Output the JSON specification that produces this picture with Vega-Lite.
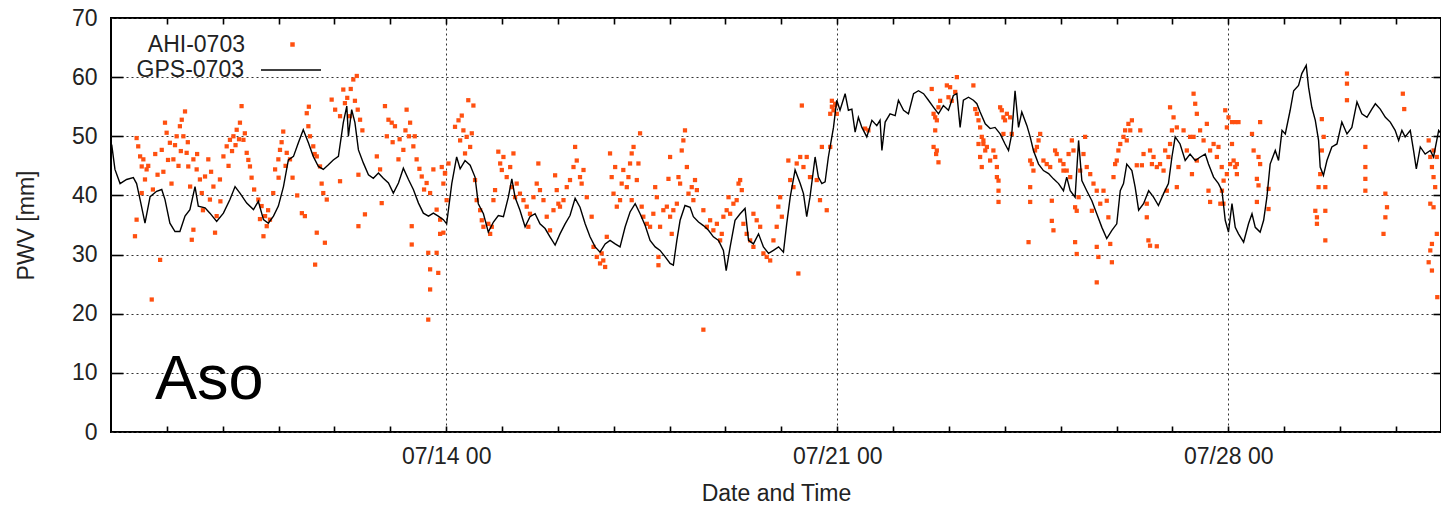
{
"$schema": "https://vega.github.io/schema/vega-lite/v6.json",
"autosize": {"type": "none"},
"padding": {"left": 111, "top": 18, "right": 0, "bottom": 74},
"width": 1330,
"height": 414,
"background": "white",
"config": {
 "view": {"stroke": "black", "strokeWidth": 2},
 "font": "Liberation Sans",
 "axis": {"labelFont": "Liberation Sans", "titleFont": "Liberation Sans", "labelFontSize": 23, "titleFontSize": 23, "labelColor": "#222", "titleColor": "#222", "titleFontWeight": "normal"}
},
"datasets": {
"ahi": [
{"h":11,"v":49.7},{"h":11.7,"v":48.3},{"h":12.5,"v":46.6},{"h":13.2,"v":44.9},{"h":13.9,"v":46.1},{"h":11,"v":35.9},{"h":10.3,"v":33.1},{"h":14.6,"v":42.7},{"h":15.3,"v":44.4},{"h":13.2,"v":40.4},{"h":17.5,"v":22.4},{"h":21.1,"v":29.1},{"h":21.8,"v":47.7},{"h":23.2,"v":52.3},{"h":23.9,"v":50.6},{"h":25.3,"v":48.9},{"h":26.8,"v":46.1},{"h":28.2,"v":50},{"h":29.6,"v":51.7},{"h":30.4,"v":52.8},{"h":31.1,"v":50},{"h":31.8,"v":54.2},{"h":32.5,"v":47.2},{"h":33.2,"v":44.9},{"h":34,"v":41.5},{"h":35.4,"v":46.1},{"h":36.8,"v":44.4},{"h":38.2,"v":42.7},{"h":35.4,"v":34.2},{"h":34.7,"v":32.5},{"h":39,"v":40.4},{"h":40.4,"v":43.2},{"h":41.8,"v":46.1},{"h":42.5,"v":39.3},{"h":44,"v":41.5},{"h":45.4,"v":36.5},{"h":44.7,"v":33.7},{"h":46.8,"v":42.7},{"h":48.3,"v":46.6},{"h":49.7,"v":48.3},{"h":51.1,"v":49.4},{"h":52.6,"v":50},{"h":54,"v":51.1},{"h":55.4,"v":52.3},{"h":56.1,"v":55.1},{"h":56.9,"v":49.4},{"h":58.3,"v":47.2},{"h":59.7,"v":44.9},{"h":60.4,"v":43},{"h":63.3,"v":39.3},{"h":64.7,"v":38.2},{"h":66.2,"v":36.5},{"h":66.9,"v":34.8},{"h":68.3,"v":35.9},{"h":65.5,"v":33.1},{"h":69.7,"v":40.4},{"h":70.5,"v":44.4},{"h":71.9,"v":46.1},{"h":72.6,"v":47.7},{"h":74,"v":50.8},{"h":75.5,"v":47.2},{"h":76.9,"v":46.1},{"h":83.3,"v":36.5},{"h":84.1,"v":53.9},{"h":84.8,"v":51.7},{"h":85.5,"v":50},{"h":86.9,"v":48.3},{"h":88.4,"v":46.6},{"h":89.8,"v":44.9},{"h":91.2,"v":40.4},{"h":87.7,"v":28.3},{"h":88.4,"v":33.7},{"h":91.9,"v":32},{"h":92.7,"v":39.3},{"h":94.8,"v":56.2},{"h":96.3,"v":54.5},{"h":98.4,"v":53.4},{"h":99.8,"v":57.9},{"h":100.5,"v":55.6},{"h":102.7,"v":53.4},{"h":104.1,"v":59.6},{"h":105.6,"v":60.2},{"h":107,"v":52.8},{"h":106.3,"v":34.8},{"h":109.1,"v":36.8},{"h":98.4,"v":42.4},{"h":106.3,"v":43.5},{"h":114.2,"v":46.6},{"h":115.6,"v":44.4},{"h":116.3,"v":38.7},{"h":117.7,"v":55.1},{"h":119.2,"v":52.8},{"h":120.6,"v":52.3},{"h":122,"v":51.7},{"h":123.5,"v":46.1},{"h":125.6,"v":47.7},{"h":127,"v":54.5},{"h":128.5,"v":52.3},{"h":129.9,"v":48.3},{"h":129.2,"v":34.8},{"h":129.2,"v":31.7},{"h":131.3,"v":46.1},{"h":133.5,"v":43.2},{"h":135.6,"v":42.1},{"h":137.1,"v":40.4},{"h":138.5,"v":44.4},{"h":139.9,"v":37.6},{"h":141.4,"v":35.9},{"h":142.8,"v":33.7},{"h":143.5,"v":43.8},{"h":136.3,"v":30.3},{"h":137.1,"v":27.5},{"h":137.1,"v":24.1},{"h":139.9,"v":30.3},{"h":140.6,"v":26.9},{"h":136.3,"v":19},
{"h":16,"v":45},{"h":18,"v":41},{"h":19,"v":47},{"h":20,"v":43.5},{"h":22.5,"v":44},{"h":24.5,"v":46},{"h":26,"v":42},{"h":27.5,"v":48.5},{"h":29,"v":45},{"h":30,"v":47.5},{"h":33,"v":49},{"h":37,"v":47},{"h":39.5,"v":37.5},{"h":43,"v":44},{"h":47,"v":39},{"h":50.5,"v":45},{"h":52,"v":47.5},{"h":53.5,"v":48.5},{"h":55,"v":49.5},{"h":57.5,"v":50.5},{"h":59,"v":46},{"h":61.5,"v":41},{"h":64,"v":36},{"h":67.5,"v":37.5},{"h":72,"v":43},{"h":73.3,"v":49},{"h":75,"v":45},{"h":78,"v":43},{"h":80,"v":40},{"h":82,"v":37},{"h":85,"v":55},{"h":87.5,"v":47},{"h":90.5,"v":42},{"h":101.5,"v":56.5},{"h":103,"v":58},{"h":104.8,"v":56},{"h":106,"v":54.5},{"h":108,"v":51},{"h":118.5,"v":50},{"h":121,"v":49},{"h":124,"v":49.5},{"h":126.5,"v":51},{"h":128,"v":50},{"h":130.5,"v":50},{"h":132.5,"v":44.5},{"h":134.5,"v":41},
{"h":142.1,"v":44.8},{"h":142.8,"v":42},{"h":143.5,"v":43.7},{"h":144.2,"v":39.2},{"h":145,"v":45.4},{"h":141.4,"v":33.5},{"h":147.8,"v":51.6},{"h":149.3,"v":52.7},{"h":150.7,"v":53.5},{"h":151.4,"v":51},{"h":152.8,"v":49.9},{"h":154.3,"v":48.2},{"h":155.7,"v":55.2},{"h":153.5,"v":56.1},{"h":155,"v":50.5},{"h":150,"v":49.3},{"h":152.1,"v":47.1},{"h":156.4,"v":42.6},{"h":157.1,"v":39.2},{"h":158.6,"v":37.5},{"h":159.3,"v":35.8},{"h":160,"v":34.7},{"h":162.9,"v":33.5},{"h":162.1,"v":35.2},{"h":163.6,"v":34.7},{"h":165,"v":40.9},{"h":164.3,"v":39.2},{"h":166.4,"v":47.4},{"h":167.2,"v":45.4},{"h":167.9,"v":44.3},{"h":168.6,"v":46.5},{"h":170,"v":43.1},{"h":171.5,"v":44.8},{"h":172.9,"v":47.1},{"h":172.2,"v":41.4},{"h":174.3,"v":42},{"h":173.6,"v":39.7},{"h":175.7,"v":40.3},{"h":177.2,"v":39.2},{"h":178.6,"v":38.1},{"h":180,"v":36.9},{"h":181.5,"v":39.7},{"h":179.3,"v":34.7},{"h":182.9,"v":42},{"h":183.6,"v":45.4},{"h":184.3,"v":40.9},{"h":185.8,"v":39.2},{"h":187.2,"v":36.4},{"h":188.6,"v":34.1},{"h":190.1,"v":37.5},{"h":190.8,"v":43.4},{"h":191.5,"v":40.9},{"h":192.2,"v":38.6},{"h":192.9,"v":38.1},{"h":194.4,"v":39.2},{"h":195.8,"v":41.4},{"h":197.2,"v":42.6},{"h":198.7,"v":44.8},{"h":199.4,"v":48.2},{"h":200.1,"v":45.9},{"h":201.5,"v":43.1},{"h":202.2,"v":42},{"h":203,"v":44.3},{"h":204.4,"v":39.7},{"h":206.5,"v":36.4},{"h":207.3,"v":31.3},{"h":208.7,"v":29.6},{"h":210.1,"v":28.5},{"h":210.8,"v":30.2},{"h":211.5,"v":29},{"h":213,"v":33},{"h":212.3,"v":27.9},{"h":214.4,"v":47.1},{"h":215.1,"v":43.1},{"h":215.9,"v":40.3},{"h":216.6,"v":44.8},{"h":217.3,"v":38.1},{"h":218.7,"v":39.2},{"h":219.4,"v":42},{"h":220.1,"v":44.3},{"h":221.6,"v":41.4},{"h":222.3,"v":43.1},{"h":223,"v":45.4},{"h":223.7,"v":47.1},{"h":224.5,"v":48.2},{"h":223.7,"v":39.2},{"h":225.9,"v":42.6},{"h":226.6,"v":45.4},{"h":227.3,"v":50.5},{"h":228,"v":38.1},{"h":228.7,"v":36.4},{"h":230.2,"v":35.2},{"h":231.6,"v":34.7},{"h":233,"v":36.9},{"h":233.8,"v":41.4},{"h":234.5,"v":39.7},{"h":235.2,"v":29.6},{"h":235.2,"v":28.2},{"h":235.9,"v":34.7},{"h":237.3,"v":37.5},{"h":238.8,"v":38.1},{"h":240.2,"v":36.4},{"h":240.9,"v":33.5},{"h":239.5,"v":42.8},{"h":240.2,"v":46.5},{"h":241.6,"v":37.5},{"h":243.1,"v":38.6},{"h":243.8,"v":43.1},{"h":244.5,"v":42},{"h":245.2,"v":47.6},{"h":245.9,"v":49.3},{"h":246.6,"v":51},{"h":247.4,"v":44.8},{"h":248.1,"v":40.3},{"h":249.5,"v":41.4},{"h":250.2,"v":39.2},{"h":250.9,"v":42.6},{"h":251.7,"v":40.9},{"h":254.5,"v":37.5},{"h":256,"v":34.7},{"h":257.4,"v":35.8},{"h":258.8,"v":34.1},{"h":260.3,"v":35.2},{"h":261.7,"v":32.4},{"h":263.1,"v":36.4},{"h":264.5,"v":37.5},{"h":265.3,"v":39.7},{"h":266,"v":36.9},{"h":267.4,"v":38.6},{"h":268.8,"v":39.2},{"h":269.6,"v":42},{"h":270.3,"v":42.6},{"h":271,"v":40.9},{"h":262.4,"v":33.5},{"h":271.7,"v":35.2},{"h":273.1,"v":33.5},{"h":274.6,"v":32.4},{"h":276,"v":36.9},{"h":277.4,"v":35.8},{"h":278.9,"v":34.7},{"h":280.3,"v":30.2},{"h":281.7,"v":29.6},{"h":283.2,"v":29},{"h":284.6,"v":32.4},{"h":286,"v":34.7},{"h":286.7,"v":38.1},{"h":287.5,"v":39.7},{"h":288.2,"v":36.4},{"h":276,"v":31.3},{"h":291,"v":45.9},{"h":291.8,"v":42.6},{"h":293.2,"v":41.4},{"h":294.6,"v":45.4},{"h":296.1,"v":46.5},{"h":296.8,"v":55.2},{"h":297.5,"v":44.8},{"h":298.9,"v":46.5},{"h":300.3,"v":43.1},{"h":303.2,"v":42.6},{"h":304.6,"v":39.2},{"h":305.4,"v":48.2},{"h":307.5,"v":37.5},{"h":309,"v":53.8},{"h":309.7,"v":55},{"h":311.1,"v":55.2},{"h":311.8,"v":53.8},{"h":295.3,"v":26.8},{"h":254.5,"v":17.3},
{"h":309.7,"v":56},{"h":310.4,"v":54.4},{"h":309,"v":48.2},{"h":311.1,"v":55.5},{"h":324,"v":51.3},{"h":325.4,"v":51},{"h":352.6,"v":58},{"h":353.4,"v":53.8},{"h":354.1,"v":53.2},{"h":354.8,"v":52.7},{"h":355.5,"v":54.9},{"h":356.2,"v":56},{"h":353.4,"v":48.2},{"h":354.8,"v":47.6},{"h":355.5,"v":45.6},{"h":354.1,"v":51},{"h":354.5,"v":47},{"h":359.1,"v":58.6},{"h":360.5,"v":58.3},{"h":359.8,"v":56.6},{"h":361.2,"v":56},{"h":363.4,"v":60},{"h":362.7,"v":57.5},{"h":370.5,"v":58.6},{"h":371.3,"v":54.6},{"h":372,"v":53.8},{"h":372.7,"v":52.7},{"h":373.4,"v":51.5},{"h":374.1,"v":49.9},{"h":374.8,"v":48.7},{"h":375.6,"v":47.6},{"h":372.7,"v":48.7},{"h":373.4,"v":46.5},{"h":374.1,"v":44.8},{"h":374.8,"v":49.3},{"h":376.3,"v":48.2},{"h":377.7,"v":45.9},{"h":379.1,"v":47.6},{"h":380.6,"v":44.8},{"h":381.3,"v":42.5},{"h":381.3,"v":40.8},{"h":381.3,"v":38.9},{"h":380.6,"v":43.1},{"h":379.9,"v":46.5},{"h":382,"v":54.9},{"h":382.7,"v":54.4},{"h":383.4,"v":53.2},{"h":384.1,"v":52.7},{"h":384.9,"v":53.8},{"h":386.3,"v":53.2},{"h":387,"v":50.4},{"h":383.4,"v":50.4},{"h":394.9,"v":45.9},{"h":395.6,"v":45.3},{"h":396.3,"v":44.2},{"h":397,"v":47.6},{"h":397.8,"v":48.2},{"h":398.5,"v":49.3},{"h":399.2,"v":50.4},{"h":394.9,"v":41.4},{"h":394.9,"v":38.9},{"h":394.2,"v":32.1},{"h":400.6,"v":45.9},{"h":402,"v":45.3},{"h":403.5,"v":44.8},{"h":404.2,"v":35.7},{"h":404.9,"v":34.1},{"h":405.6,"v":47.6},{"h":406.3,"v":47},{"h":407.8,"v":45.9},{"h":409.2,"v":45.3},{"h":410.6,"v":44.2},{"h":412.1,"v":43.1},{"h":412.8,"v":49.3},{"h":413.5,"v":47.6},{"h":411.4,"v":47},{"h":409.2,"v":44.2},{"h":404.2,"v":39.1},{"h":414.2,"v":38},{"h":414.9,"v":37.4},{"h":415.7,"v":39.7},{"h":416.4,"v":44.2},{"h":417.8,"v":47},{"h":418.5,"v":49.9},{"h":419.2,"v":44.8},{"h":420.7,"v":43.6},{"h":422.1,"v":42},{"h":423.5,"v":40.8},{"h":414.2,"v":32.1},{"h":414.9,"v":30.1},{"h":421.4,"v":37.4},{"h":423.5,"v":31.3},{"h":424.2,"v":29.6},{"h":423.5,"v":25.3},{"h":425,"v":38.6},{"h":426.4,"v":40.8},{"h":427.8,"v":39.1},{"h":429.3,"v":31.8},{"h":430,"v":28.7},{"h":428.5,"v":36.3},{"h":430.7,"v":43.1},{"h":431.4,"v":45.3},{"h":432.1,"v":45.9},{"h":432.8,"v":47.6},{"h":433.6,"v":48.7},{"h":435,"v":49.9},{"h":435.7,"v":51},{"h":436.4,"v":49.3},{"h":437.9,"v":51},{"h":438.6,"v":52.7},{"h":437.1,"v":52.1},{"h":440.7,"v":45.1},{"h":442.2,"v":51},{"h":442.9,"v":45.1},{"h":443.6,"v":47},{"h":445,"v":36.3},{"h":445.7,"v":32.4},{"h":446.4,"v":31.5},{"h":449.3,"v":31.4},{"h":445,"v":38.6},{"h":446.4,"v":47.6},{"h":447.2,"v":45.3},{"h":447.9,"v":46.5},{"h":449.3,"v":44.8},{"h":450.7,"v":45.3},{"h":452.2,"v":44.2},{"h":452.9,"v":47.6},{"h":453.6,"v":40.8},{"h":454.3,"v":46.5},{"h":455,"v":48.7},{"h":455.8,"v":51},{"h":456.5,"v":53.2},{"h":455,"v":54.9},{"h":457.9,"v":51.5},{"h":458.6,"v":44.8},{"h":457.9,"v":41.4},{"h":460.8,"v":51},{"h":462.2,"v":47.6},{"h":463.6,"v":49.9},{"h":464.4,"v":43.6},{"h":465.1,"v":57.2},{"h":465.8,"v":55.5},{"h":466.5,"v":53.8},{"h":467.9,"v":51},{"h":469.4,"v":49.3},{"h":470.8,"v":52.1},{"h":471.5,"v":40.8},{"h":472.2,"v":47.6},{"h":473.7,"v":48.7},{"h":475.1,"v":46.5},{"h":475.8,"v":48.2},{"h":477.2,"v":44.8},{"h":477.9,"v":38.6},{"h":478.7,"v":54.4},{"h":480.1,"v":53.2},{"h":465.1,"v":49.9},{"h":466.5,"v":45.9},{"h":472.2,"v":38.9},
{"h":479.4,"v":51.5},{"h":481.6,"v":52.4},{"h":483,"v":52.4},{"h":484.4,"v":52.4},{"h":481.6,"v":48.7},{"h":482.3,"v":45.9},{"h":483,"v":44.8},{"h":483.7,"v":45.3},{"h":480.8,"v":45.3},{"h":479.4,"v":43.6},{"h":478,"v":42.5},{"h":477.3,"v":40.8},{"h":476.6,"v":38.6},{"h":483.7,"v":43.6},{"h":490.2,"v":50.4},{"h":490.9,"v":47.6},{"h":492.3,"v":42.8},{"h":493,"v":41.7},{"h":493.7,"v":52.4},{"h":493,"v":46.5},{"h":493.7,"v":45.3},{"h":492.3,"v":38.9},{"h":497.3,"v":41.1},{"h":497.3,"v":37.7},{"h":517.4,"v":37.4},{"h":518.1,"v":36.3},{"h":518.8,"v":41.4},{"h":519.5,"v":43.6},{"h":520.2,"v":47.6},{"h":520.2,"v":52.9},{"h":521,"v":49.9},{"h":521.7,"v":41.4},{"h":521.7,"v":37.4},{"h":521.7,"v":32.4},{"h":518.1,"v":35.2},{"h":531,"v":60.6},{"h":531,"v":58.9},{"h":531,"v":56.1},{"h":538.9,"v":48.2},{"h":538.9,"v":44.8},{"h":538.9,"v":42.8},{"h":538.9,"v":40.8},{"h":547.5,"v":40.3},{"h":548.2,"v":38},{"h":547.5,"v":36.3},{"h":546.7,"v":33.5},{"h":555,"v":57.2},{"h":555.6,"v":54.6},{"h":566.1,"v":49.3},{"h":566.8,"v":46.5},{"h":567.5,"v":44.8},{"h":568.2,"v":43.1},{"h":568.9,"v":41.4},{"h":566.8,"v":38.6},{"h":568.2,"v":38},{"h":569.6,"v":33.5},{"h":567.5,"v":31.8},{"h":566.8,"v":30.7},{"h":566.1,"v":28.7},{"h":567.5,"v":27.3},{"h":568.2,"v":47.6},{"h":569.6,"v":46.5},{"h":569.8,"v":22.8}
],
"gps": [
{"h":0.3,"v":48.6},{"h":1.7,"v":44.4},{"h":3.9,"v":42},{"h":6.7,"v":42.7},{"h":9.6,"v":43},{"h":11,"v":42},{"h":12.5,"v":39.3},{"h":14.6,"v":35.3},{"h":16.8,"v":39.8},{"h":19.6,"v":40.7},{"h":21.8,"v":41},{"h":23.2,"v":39.3},{"h":25.3,"v":35.3},{"h":27.5,"v":33.9},{"h":29.6,"v":33.9},{"h":31.8,"v":36.5},{"h":33.9,"v":37.6},{"h":36.1,"v":41.5},{"h":37.5,"v":38.2},{"h":40.4,"v":37.9},{"h":42.5,"v":37},{"h":45.4,"v":35.6},{"h":48.3,"v":37},{"h":51.1,"v":39.3},{"h":53.3,"v":41.5},{"h":55.4,"v":40.4},{"h":58.3,"v":38.7},{"h":61.2,"v":37.6},{"h":63.3,"v":39},{"h":65.5,"v":35.9},{"h":67.6,"v":35.3},{"h":69.8,"v":36.5},{"h":71.9,"v":38.2},{"h":74.1,"v":41.5},{"h":76.2,"v":46},{"h":78.4,"v":46.6},{"h":80.5,"v":48.9},{"h":82.6,"v":51.1},{"h":84.8,"v":48.9},{"h":86.9,"v":46.6},{"h":89.1,"v":44.9},{"h":91.2,"v":44.4},{"h":93.4,"v":45.2},{"h":95.5,"v":46},{"h":97.7,"v":46.6},{"h":99.8,"v":52.3},{"h":101.3,"v":55.1},{"h":102,"v":50},{"h":103.4,"v":54.5},{"h":104.8,"v":52.3},{"h":106.3,"v":47.7},{"h":108.4,"v":45.5},{"h":110.6,"v":43.5},{"h":112.7,"v":42.9},{"h":114.9,"v":43.8},{"h":117,"v":42.9},{"h":119.2,"v":42.1},{"h":121.3,"v":40.4},{"h":123.5,"v":42.1},{"h":125.6,"v":44.6},{"h":127.8,"v":42.7},{"h":129.9,"v":41},{"h":132.1,"v":38.7},{"h":134.2,"v":37},{"h":136.4,"v":36.5},{"h":138.5,"v":37},{"h":140.6,"v":36.5},{"h":142.8,"v":35.9},
{"h":144.2,"v":35.2},{"h":146.4,"v":42},{"h":148.5,"v":46.5},{"h":150,"v":44.5},{"h":152.1,"v":45.9},{"h":154.3,"v":45.1},{"h":156.4,"v":43.1},{"h":157.8,"v":38.6},{"h":160,"v":36.9},{"h":162.1,"v":33.8},{"h":164.3,"v":35.5},{"h":166.4,"v":36.6},{"h":168.6,"v":36.4},{"h":170.7,"v":39.7},{"h":172.2,"v":42.8},{"h":173.6,"v":39.7},{"h":175.7,"v":37.5},{"h":177.9,"v":34.7},{"h":180,"v":36.4},{"h":182.2,"v":36.9},{"h":184.3,"v":35.2},{"h":186.5,"v":34.4},{"h":188.6,"v":33},{"h":190.8,"v":31.6},{"h":192.9,"v":33.5},{"h":195.1,"v":35.2},{"h":197.2,"v":36.6},{"h":199.4,"v":39.5},{"h":201.5,"v":38},{"h":203.7,"v":35.2},{"h":205.8,"v":33},{"h":208,"v":31.3},{"h":210.1,"v":30.4},{"h":212.3,"v":31.8},{"h":214.4,"v":32.4},{"h":216.6,"v":31.8},{"h":218.7,"v":31.3},{"h":220.9,"v":34.7},{"h":223,"v":37.2},{"h":225.2,"v":38.6},{"h":227.3,"v":36.9},{"h":229.5,"v":34.9},{"h":231.6,"v":32.4},{"h":233.8,"v":31.3},{"h":235.9,"v":30.7},{"h":238.1,"v":29.6},{"h":240.2,"v":28.5},{"h":241.6,"v":28.2},{"h":243.1,"v":32.4},{"h":244.5,"v":35.8},{"h":246.6,"v":38.3},{"h":248.8,"v":38},{"h":250.2,"v":36.4},{"h":252.4,"v":35.5},{"h":254.5,"v":34.9},{"h":256.7,"v":34.1},{"h":258.8,"v":33},{"h":261,"v":32.4},{"h":263.1,"v":30.7},{"h":264.3,"v":27.3},{"h":266,"v":31.3},{"h":268.1,"v":35.8},{"h":270.3,"v":36.9},{"h":272.4,"v":37.8},{"h":273.9,"v":32.4},{"h":276,"v":31.8},{"h":278.2,"v":33.5},{"h":280.3,"v":31.3},{"h":282.5,"v":30.2},{"h":284.6,"v":30.7},{"h":286.8,"v":31.3},{"h":288.9,"v":30.4},{"h":290.3,"v":35.2},{"h":291.8,"v":39.7},{"h":293.9,"v":44.3},{"h":296.1,"v":42},{"h":297.5,"v":40.3},{"h":298.9,"v":36.4},{"h":300.3,"v":39.7},{"h":302.5,"v":46.5},{"h":303.9,"v":43.1},{"h":305.4,"v":42},{"h":306.8,"v":42.3},{"h":308.2,"v":46.5},
{"h":310.4,"v":51.5},{"h":311.8,"v":56.1},{"h":313.2,"v":54.4},{"h":315.4,"v":57.2},{"h":316.8,"v":54.4},{"h":318.3,"v":54.6},{"h":319.7,"v":50.7},{"h":321.1,"v":53.2},{"h":322.6,"v":51.5},{"h":324.7,"v":49.9},{"h":326.9,"v":52.7},{"h":329,"v":51.8},{"h":330.4,"v":52.7},{"h":331.2,"v":47.6},{"h":332.6,"v":52.4},{"h":334.7,"v":53.8},{"h":336.9,"v":53.5},{"h":338.3,"v":56.1},{"h":340.5,"v":54.4},{"h":342.6,"v":53.8},{"h":344.8,"v":57.2},{"h":346.9,"v":57.7},{"h":349.1,"v":57.2},{"h":351.2,"v":56.1},{"h":353.4,"v":54.9},{"h":355.5,"v":53.8},{"h":357.6,"v":55.2},{"h":359.8,"v":54.4},{"h":361.9,"v":56.9},{"h":363.4,"v":57.2},{"h":364.8,"v":51.5},{"h":366.2,"v":56.1},{"h":368.4,"v":56.6},{"h":370.5,"v":56.1},{"h":372,"v":55.5},{"h":373.4,"v":54.1},{"h":375.6,"v":52.1},{"h":377.7,"v":51.3},{"h":379.8,"v":51.5},{"h":382,"v":50.4},{"h":384.1,"v":48.7},{"h":385.6,"v":47.6},{"h":387,"v":50.4},{"h":388.4,"v":57.7},{"h":389.9,"v":51.5},{"h":391.3,"v":54.1},{"h":393.5,"v":51.8},{"h":394.9,"v":49.9},{"h":396.3,"v":47.6},{"h":398.5,"v":45.3},{"h":400.6,"v":44.2},{"h":402.8,"v":43.7},{"h":404.9,"v":42.8},{"h":407.1,"v":42},{"h":409.2,"v":40.8},{"h":410.6,"v":43.1},{"h":412.1,"v":40.8},{"h":414.2,"v":39.7},{"h":415.7,"v":49.3},{"h":417.1,"v":42.5},{"h":419.2,"v":40.8},{"h":421.4,"v":39.1},{"h":423.5,"v":36.9},{"h":425.7,"v":34.6},{"h":427.8,"v":32.7},{"h":430,"v":34.1},{"h":432.1,"v":35.2},{"h":433.6,"v":40.8},{"h":435,"v":42},{"h":436.4,"v":45.3},{"h":438.6,"v":44.2},{"h":440,"v":41.4},{"h":441.5,"v":37.5},{"h":443.6,"v":38.6},{"h":445.8,"v":40.8},{"h":447.9,"v":39.7},{"h":450,"v":38.3},{"h":452.2,"v":40.3},{"h":454.3,"v":42},{"h":455.8,"v":46.5},{"h":457.2,"v":49.9},{"h":459.3,"v":48.7},{"h":461.5,"v":45.9},{"h":463.6,"v":47},{"h":465.8,"v":45.9},{"h":468,"v":46.5},{"h":470.1,"v":47},{"h":471.5,"v":45.3},{"h":473.7,"v":43.1},{"h":475.8,"v":42},{"h":477.3,"v":40.8},{"h":478.7,"v":35.8},{"h":480.1,"v":33.8},
{"h":481.6,"v":38.6},{"h":483,"v":34.6},{"h":484.4,"v":33.5},{"h":486.6,"v":32.1},{"h":488.7,"v":35.2},{"h":490.2,"v":36.9},{"h":491.6,"v":34.6},{"h":493.7,"v":33.8},{"h":495.2,"v":35.8},{"h":496.6,"v":39.7},{"h":498,"v":45.3},{"h":500.2,"v":47.6},{"h":501.6,"v":45.9},{"h":503.1,"v":51},{"h":504.5,"v":50.4},{"h":506.6,"v":54.4},{"h":508.1,"v":57.7},{"h":510.2,"v":58.6},{"h":511.6,"v":60.6},{"h":513.5,"v":62},{"h":514.5,"v":58.3},{"h":515.9,"v":54.9},{"h":517.4,"v":52.7},{"h":518.8,"v":49.3},{"h":519.5,"v":44.8},{"h":520.9,"v":43.4},{"h":522.4,"v":45.9},{"h":524.5,"v":48.2},{"h":526.7,"v":48.7},{"h":528.8,"v":52.4},{"h":531,"v":50.4},{"h":533.1,"v":51.5},{"h":535.3,"v":55.8},{"h":537.4,"v":53.8},{"h":539.6,"v":53.2},{"h":541.7,"v":54.6},{"h":543.2,"v":55.5},{"h":545.3,"v":54.6},{"h":547.5,"v":53.2},{"h":549.6,"v":52.4},{"h":551.7,"v":51},{"h":553.2,"v":49.3},{"h":554.6,"v":51},{"h":556,"v":49.9},{"h":558.2,"v":51},{"h":559.6,"v":47.6},{"h":560.8,"v":44.5},{"h":562.5,"v":48.2},{"h":564.6,"v":47},{"h":566.8,"v":47.6},{"h":568.2,"v":46.5},{"h":570.4,"v":51},{"h":571.5,"v":50.4}
]
},
"layer": [
 {
  "data": {"name": "ahi"},
  "mark": {"type": "point", "shape": "square", "filled": true, "size": 18, "opacity": 1},
  "encoding": {
   "x": {"field": "h", "type": "quantitative", "scale": {"domain": [0, 571.4], "nice": false, "zero": false},
     "axis": {"orient": "bottom", "values": [144, 312, 480],
       "labelExpr": "datum.value == 144 ? '07/14 00' : datum.value == 312 ? '07/21 00' : '07/28 00'",
       "ticks": false, "domain": false, "labelPadding": 13, "labelFlush": false, "labelOverlap": false, "title": "Date and Time", "titlePadding": 14,
       "grid": true, "gridColor": "#333", "gridDash": [2, 3]}},
   "y": {"field": "v", "type": "quantitative", "scale": {"domain": [0, 70], "nice": false, "zero": false},
     "axis": {"orient": "left", "values": [0,10,20,30,40,50,60,70], "ticks": false, "domain": false, "labelPadding": 14, "title": "PWV [mm]", "titlePadding": 33,
       "grid": true, "gridColor": "#333", "gridDash": [2, 3]}},
   "color": {"datum": "AHI-0703", "type": "nominal",
     "scale": {"domain": ["AHI-0703"], "range": ["#ff5010"]},
     "legend": {"orient": "none", "legendX": 170, "legendY": 15, "title": null, "labelFontSize": 23, "labelFont": "Liberation Sans", "labelColor": "#222",
       "symbolSize": 20, "symbolType": "square", "labelAlign": "right", "labelOffset": -59, "padding": 0}}
  }
 },
 {
  "data": {"name": "gps"},
  "mark": {"type": "line", "strokeWidth": 1.4},
  "encoding": {
   "x": {"field": "h", "type": "quantitative", "scale": {"domain": [0, 571.4], "nice": false, "zero": false},
     "axis": {"orient": "top", "offset": -6, "values": [24,48,72,96,120,144,168,192,216,240,264,288,312,336,360,384,408,432,456,480,504,528,552], "ticks": true, "tickSize": 6, "tickWidth": 1.6, "tickColor": "black", "domain": false, "labels": false, "grid": false, "title": null}},
   "y": {"field": "v", "type": "quantitative", "scale": {"domain": [0, 70], "nice": false, "zero": false},
     "axis": {"orient": "right", "offset": -8, "values": [10,20,30,40,50,60], "ticks": true, "tickSize": 8, "tickWidth": 1.6, "tickColor": "black", "domain": false, "labels": false, "grid": false, "title": null}},
   "stroke": {"datum": "GPS-0703", "type": "nominal",
     "scale": {"domain": ["GPS-0703"], "range": ["black"]},
     "legend": {"orient": "none", "legendX": 149, "legendY": 21, "title": null, "labelFontSize": 23, "labelFont": "Liberation Sans", "labelColor": "#222",
       "symbolSize": 3600, "symbolType": "stroke", "symbolStrokeWidth": 1.5, "labelAlign": "right", "labelOffset": -78, "padding": 0}}
  }
 },
 {
  "data": {"values": [{}]},
  "mark": {"type": "text", "text": "Aso", "fontSize": 63, "align": "left", "baseline": "alphabetic", "font": "Liberation Sans", "color": "black"},
  "encoding": {
   "x": {"datum": 18.9, "type": "quantitative", "scale": {"domain": [0, 571.4], "nice": false, "zero": false},
     "axis": {"orient": "bottom", "offset": -6, "values": [24,48,72,96,120,144,168,192,216,240,264,288,312,336,360,384,408,432,456,480,504,528,552], "ticks": true, "tickSize": 6, "tickWidth": 1.6, "tickColor": "black", "domain": false, "labels": false, "grid": false, "title": null}},
   "y": {"datum": 5.6, "type": "quantitative", "scale": {"domain": [0, 70], "nice": false, "zero": false},
     "axis": {"orient": "left", "offset": -12, "values": [10,20,30,40,50,60], "ticks": true, "tickSize": 12, "tickWidth": 1.6, "tickColor": "black", "domain": false, "labels": false, "grid": false, "title": null}}
  }
 }
],
"resolve": {"axis": {"x": "independent", "y": "independent"}}
}
